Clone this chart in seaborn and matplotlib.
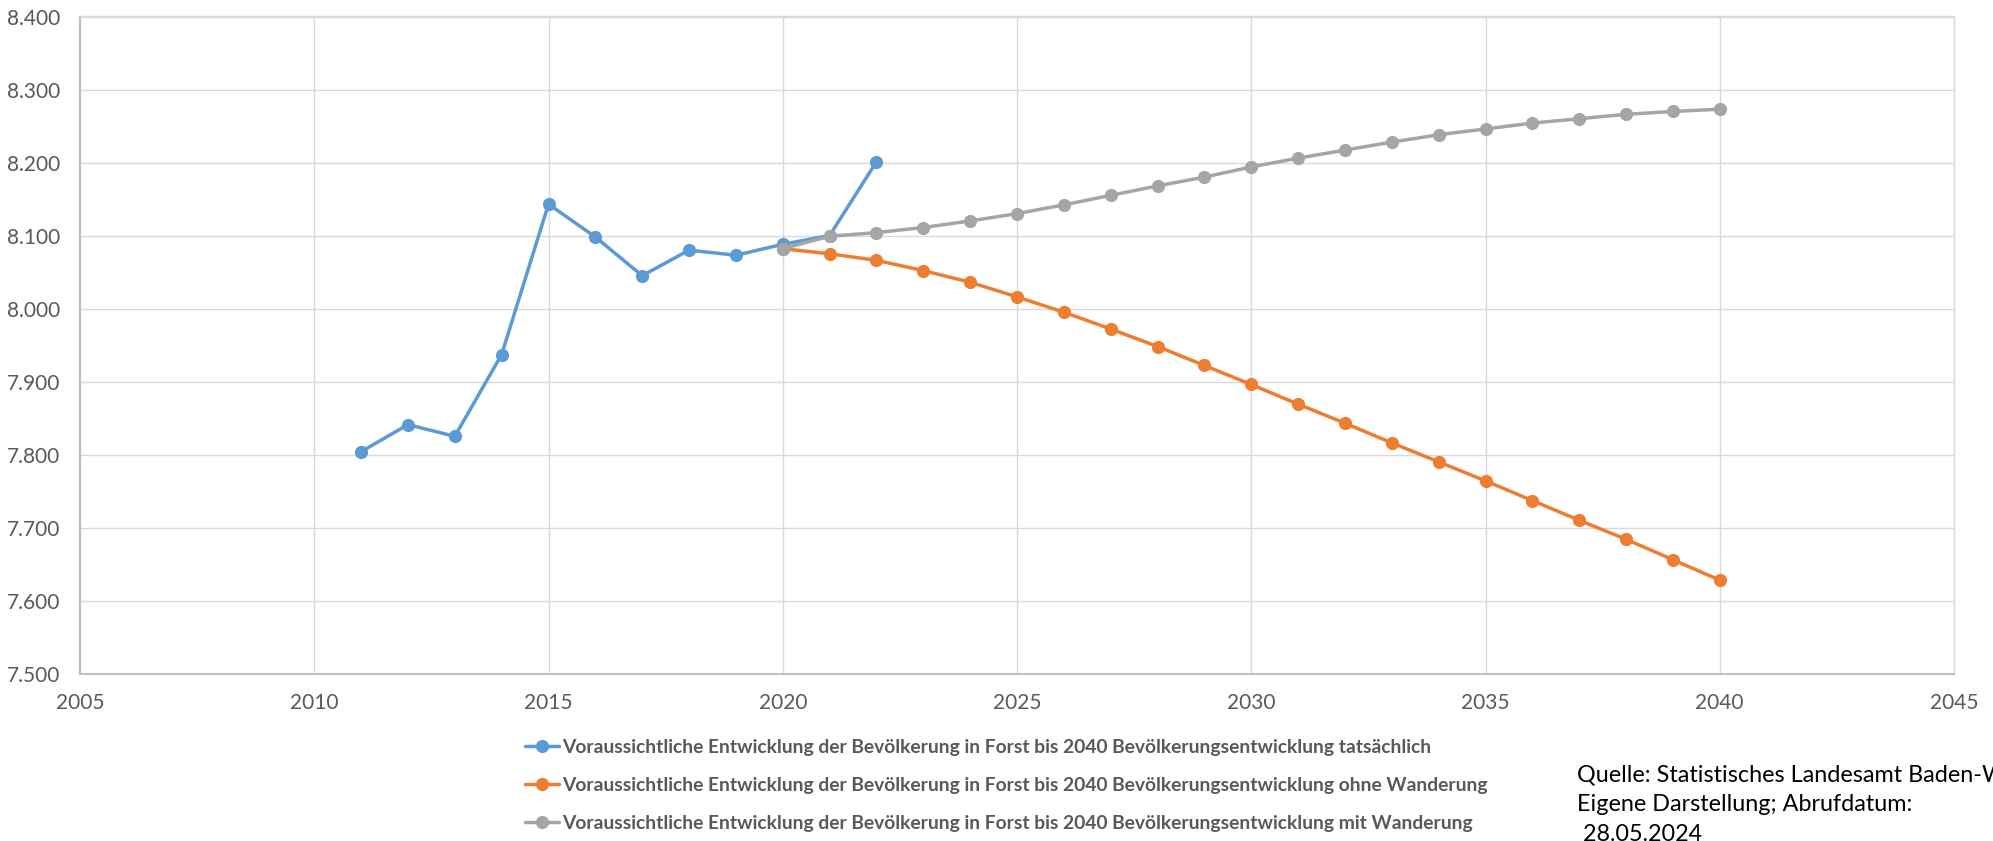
import matplotlib
matplotlib.use("Agg")
import matplotlib.pyplot as plt
import seaborn as sns
import pandas as pd

# Einwohnerzahlen Forst (Baden)
jahre_ist = list(range(2011, 2023))
ist = [7804, 7841, 7825, 7937, 8143, 8098, 8045, 8080, 8073, 8088, 8100, 8201]

jahre_prognose = list(range(2020, 2041))
ohne_wanderung = [8082, 8075, 8066, 8052, 8036, 8016, 7995, 7972, 7948, 7922, 7896,
                  7869, 7843, 7816, 7790, 7764, 7737, 7710, 7684, 7656, 7628]
mit_wanderung = [8082, 8099, 8104, 8111, 8120, 8130, 8142, 8155, 8168, 8180, 8194,
                 8206, 8217, 8228, 8238, 8246, 8254, 8260, 8266, 8270, 8273]

praefix = "Voraussichtliche Entwicklung der Bevölkerung in Forst bis 2040 Bevölkerungsentwicklung "
reihen = [praefix + "tatsächlich", praefix + "ohne Wanderung", praefix + "mit Wanderung"]
farben = ["#5B9BD5", "#ED7D31", "#A5A5A5"]

x_ticks = list(range(2005, 2046, 5))
y_ticks = [7500, 7600, 7700, 7800, 7900, 8000, 8100, 8200, 8300, 8400]
y_labels = ["7.500", "7.600", "7.700", "7.800", "7.900", "8.000", "8.100", "8.200", "8.300", "8.400"]

quelle = ["Quelle: Statistisches Landesamt Baden-Württemberg,",
          "Eigene Darstellung; Abrufdatum:",
          " 28.05.2024"]

df = pd.concat([
    pd.DataFrame({"Jahr": jahre_ist, "Einwohner": ist, "Reihe": reihen[0]}),
    pd.DataFrame({"Jahr": jahre_prognose, "Einwohner": ohne_wanderung, "Reihe": reihen[1]}),
    pd.DataFrame({"Jahr": jahre_prognose, "Einwohner": mit_wanderung, "Reihe": reihen[2]}),
], ignore_index=True)

sns.set_style("white")
plt.rcParams["font.family"] = ["Lato", "DejaVu Sans"]
textfarbe = "#595959"

W, H = 1993, 841
fig = plt.figure(figsize=(W / 100, H / 100), dpi=100)
ax = fig.add_axes([80 / W, 167.4 / H, 1874 / W, 657.1 / H])

sns.lineplot(data=df, x="Jahr", y="Einwohner", hue="Reihe", hue_order=reihen,
             palette=farben, marker="o", markersize=9.5, markeredgewidth=0,
             linewidth=2.5, legend=False, ax=ax, zorder=3)

ax.set_xlim(2005, 2045)
ax.set_ylim(7500, 8400)
ax.set_xticks(x_ticks)
ax.set_xticklabels([str(t) for t in x_ticks])
ax.set_yticks(y_ticks)
ax.set_yticklabels(y_labels)
ax.set_xlabel("")
ax.set_ylabel("")

ax.grid(True, color="#D9D9D9", linewidth=1.0)
ax.set_axisbelow(True)
for s in ["top", "right"]:
    ax.spines[s].set_color("#D9D9D9")
    ax.spines[s].set_linewidth(1.0)
for s in ["left", "bottom"]:
    ax.spines[s].set_color("#BFBFBF")
    ax.spines[s].set_linewidth(1.5)

ax.tick_params(axis="both", length=0, labelsize=15, labelcolor=textfarbe)
ax.tick_params(axis="y", pad=14)
ax.tick_params(axis="x", pad=14)

handles = ax.get_lines()[:3]
fig.legend(handles, reihen, loc="upper left", bbox_to_anchor=(525 / W, 1 - 739 / H),
           frameon=False, borderpad=0, borderaxespad=0, handlelength=1.75,
           handletextpad=0.15, labelspacing=1.08,
           prop={"weight": "bold", "size": 13.9}, labelcolor=textfarbe)

# Quellenangabe unten rechts
for zeile, (x_px, baseline_px) in zip(quelle, [(1577, 782), (1577, 811), (1577, 841)]):
    fig.text(x_px / W, 1 - baseline_px / H, zeile, fontsize=16.8, color="black",
             ha="left", va="baseline")

fig.savefig("out.png", dpi=100)
